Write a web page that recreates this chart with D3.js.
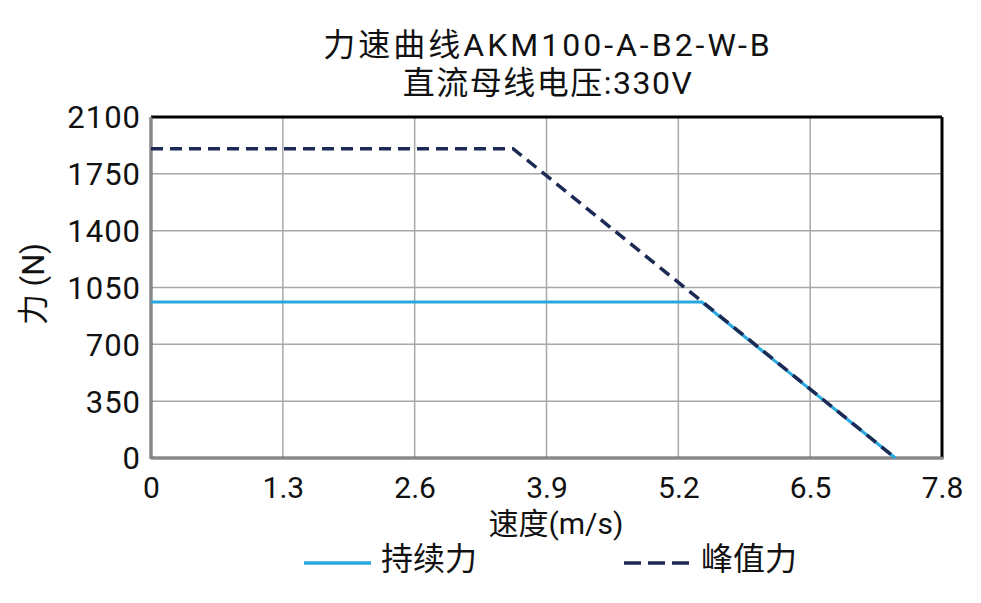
<!DOCTYPE html>
<html>
<head>
<meta charset="utf-8">
<script src="https://cdn.jsdelivr.net/npm/d3@7/dist/d3.min.js"></script>
<style>
body { margin: 0; background: #fff; }
text { font-family: Roboto, "Noto Sans CJK SC", sans-serif; fill: #111; }
</style>
</head>
<body>
<div id="chart"></div>
<script>
// data
var titleLines = ["力速曲线AKM100-A-B2-W-B", "直流母线电压:330V"];
var xTicks = [0, 1.3, 2.6, 3.9, 5.2, 6.5, 7.8];
var yTicks = [0, 350, 700, 1050, 1400, 1750, 2100];
var seriesNames = ["持续力", "峰值力"];
var contSpeed = [0, 5.43, 7.34];
var contForce = [960, 960, 0];
var peakSpeed = [0, 3.57, 7.34];
var peakForce = [1905, 1905, 0];
var colors = ["#29a8e0", "#1c2b55"];

var W = 981, H = 603;
var margin = {top: 117, right: 39, bottom: 145, left: 151};
var width = W - margin.left - margin.right;
var height = H - margin.top - margin.bottom;

var svg = d3.select("#chart").append("svg").attr("width", W).attr("height", H);

// title
svg.selectAll(".title").data(titleLines).enter().append("text")
    .attr("x", 548).attr("y", (d, i) => 56 + i * 38)
    .attr("text-anchor", "middle").style("font-size", "32px")
    .style("letter-spacing", (d, i) => i ? "1.5px" : "3px")
    .text(d => d);

var g = svg.append("g").attr("transform", "translate(" + margin.left + "," + margin.top + ")");

var x = d3.scaleLinear().domain([0, 7.8]).range([0, width]);
var y = d3.scaleLinear().domain([0, 2100]).range([height, 0]);

// grid
g.append("g").selectAll("line").data(yTicks.slice(1, -1)).enter().append("line")
    .attr("x1", 0).attr("x2", width).attr("y1", d => y(d)).attr("y2", d => y(d))
    .attr("stroke", "#a8a8a8").attr("stroke-width", 1.5);
g.append("g").selectAll("line").data(xTicks.slice(1, -1)).enter().append("line")
    .attr("y1", 0).attr("y2", height).attr("x1", d => x(d)).attr("x2", d => x(d))
    .attr("stroke", "#a8a8a8").attr("stroke-width", 1.5);

// axes
var yAxis = g.append("g").call(d3.axisLeft(y).tickValues(yTicks).tickFormat(d => String(d)).tickSize(0).tickPadding(10));
yAxis.select(".domain").remove();
yAxis.selectAll("text").style("font-size", "31px").style("letter-spacing", "1px")
    .attr("dy", "0.35em").style("fill", "#111");

var xAxis = g.append("g").attr("transform", "translate(0," + height + ")")
    .call(d3.axisBottom(x).tickValues(xTicks).tickFormat(d => d === 0 ? "0" : d3.format(".1f")(d)).tickSize(0).tickPadding(19));
xAxis.select(".domain").remove();
xAxis.selectAll("text").style("font-size", "30px").style("fill", "#111");

// frame
g.append("line").attr("x1", 0).attr("x2", width).attr("y1", 0).attr("y2", 0).attr("stroke", "#000").attr("stroke-width", 3);
g.append("line").attr("x1", width).attr("x2", width).attr("y1", 0).attr("y2", height).attr("stroke", "#000").attr("stroke-width", 3);
g.append("line").attr("x1", 0).attr("x2", 0).attr("y1", 0).attr("y2", height + 1).attr("stroke", "#555").attr("stroke-width", 3);
g.append("line").attr("x1", 0).attr("x2", 0).attr("y1", 0).attr("y2", height + 1).attr("stroke", "#999").attr("stroke-width", 1.5);
g.append("line").attr("x1", 0).attr("x2", width + 1.5).attr("y1", height).attr("y2", height).attr("stroke", "#555").attr("stroke-width", 3);
g.append("line").attr("x1", 0).attr("x2", width + 1.5).attr("y1", height).attr("y2", height).attr("stroke", "#999").attr("stroke-width", 1.5);

// lines
var line = d3.line().x(d => x(d[0])).y(d => y(d[1]));
g.append("path").datum(d3.zip(contSpeed, contForce)).attr("d", line)
    .attr("fill", "none").attr("stroke", colors[0]).attr("stroke-width", 3);
g.append("path").datum(d3.zip(peakSpeed, peakForce)).attr("d", line)
    .attr("fill", "none").attr("stroke", colors[1]).attr("stroke-width", 3.5)
    .attr("stroke-dasharray", "12,7");

// axis labels
svg.append("text").attr("x", 556).attr("y", 534).attr("text-anchor", "middle")
    .style("font-size", "30px").text("速度(m/s)");
svg.append("text").attr("transform", "translate(33,284) rotate(-90)").attr("text-anchor", "middle")
    .attr("dy", "0.36em").style("font-size", "31px").text("力 (N)");

// legend
var legend = svg.append("g");
var lx = [304, 624];
legend.selectAll("line").data(seriesNames).enter().append("line")
    .attr("x1", (d, i) => lx[i]).attr("x2", (d, i) => lx[i] + 67)
    .attr("y1", 563).attr("y2", 563)
    .attr("stroke", (d, i) => colors[i]).attr("stroke-width", 3.5)
    .attr("stroke-dasharray", (d, i) => i ? "17,7" : null);
legend.selectAll("text").data(seriesNames).enter().append("text")
    .attr("x", (d, i) => lx[i] + 77).attr("y", 570)
    .style("font-size", "32px").text(d => d);
</script>
</body>
</html>
